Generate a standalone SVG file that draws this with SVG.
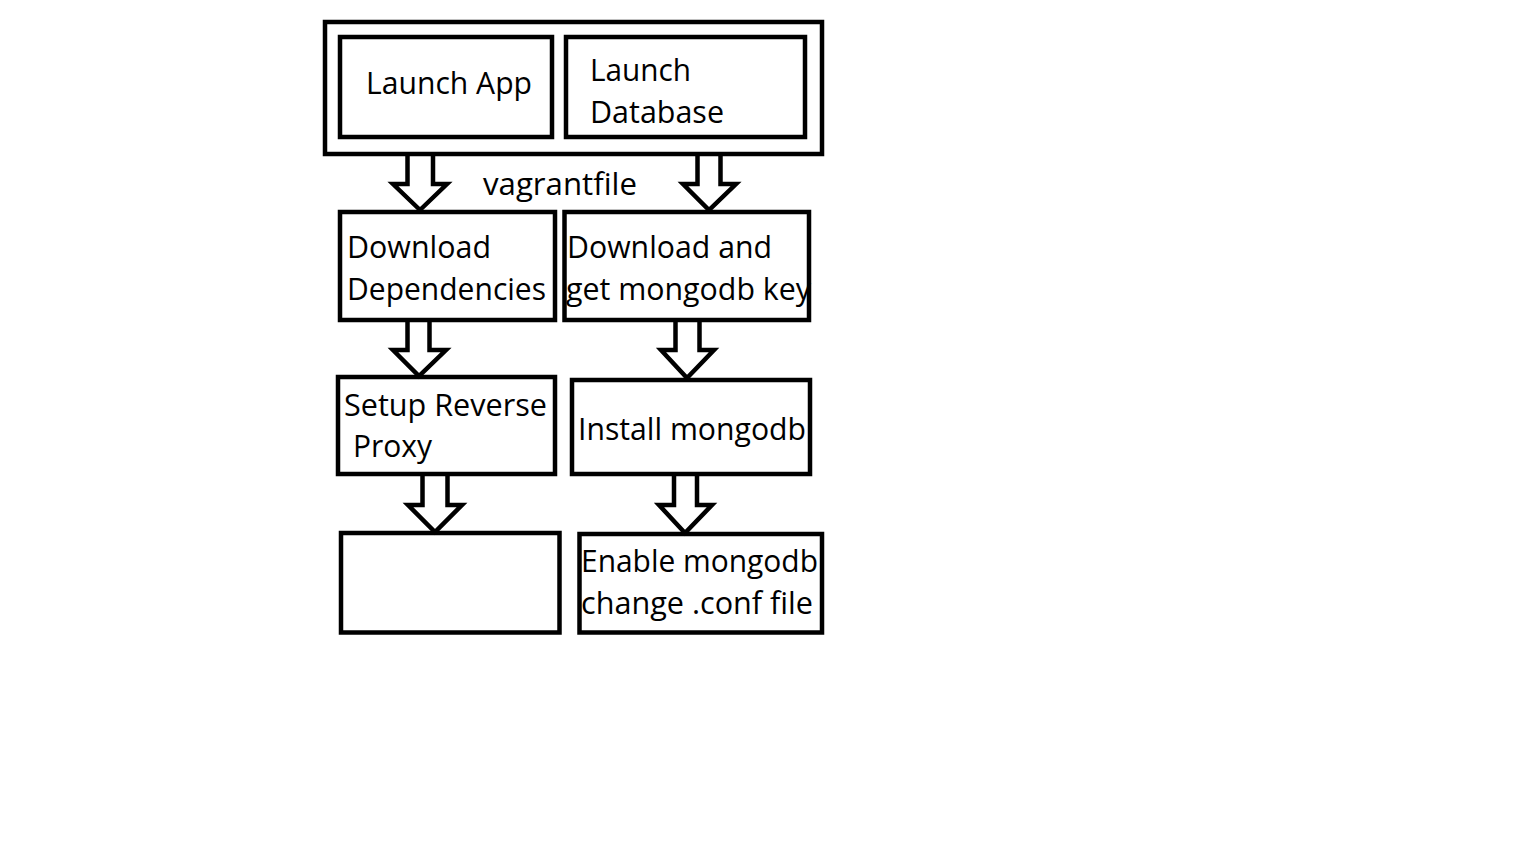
<svg xmlns="http://www.w3.org/2000/svg" width="1536" height="864" viewBox="0 0 1536 864">
<style>
.box{fill:none;stroke:#000;stroke-width:4.5}
.arr{fill:#fff;stroke:#000;stroke-width:4.5;stroke-linejoin:miter}
.t{font-family:"Open Sans","Noto Sans","Liberation Sans",sans-serif;font-size:31px;fill:#000}
</style>
<rect width="1536" height="864" fill="#fff"/>
<g id="connectors">
<path class="arr" d="M407.5,154 V184 H393 L420,210 L447,184 H433 V154"/>
<path class="arr" d="M697.5,154 V184 H683 L709,210 L736,184 H720.5 V154"/>
<path class="arr" d="M407.5,320 V350 H393 L419,376 L446,350 H429.5 V320"/>
<path class="arr" d="M675.5,320 V350 H661 L687,378 L714,350 H699.5 V320"/>
<path class="arr" d="M422.5,474 V505 H408 L435,532 L462,505 H447.5 V474"/>
<path class="arr" d="M674,474 V505 H659 L685,533 L712,505 H697 V474"/>
</g>
<g id="vagrantfile">
<rect class="box" x="325" y="22" width="497" height="132"/>
<text class="t" x="483" y="195" textLength="154" lengthAdjust="spacingAndGlyphs">vagrantfile</text>
</g>
<g id="launch-app">
<rect class="box" x="340" y="37" width="212" height="100"/>
<text class="t" x="366" y="94" textLength="166" lengthAdjust="spacingAndGlyphs">Launch App</text>
</g>
<g id="launch-database">
<rect class="box" x="566" y="37" width="239" height="100"/>
<text class="t" x="590" y="81" textLength="101" lengthAdjust="spacingAndGlyphs">Launch</text>
<text class="t" x="590" y="123" textLength="134" lengthAdjust="spacingAndGlyphs">Database</text>
</g>
<g id="download-dependencies">
<rect class="box" x="340" y="212" width="215" height="108"/>
<text class="t" x="347" y="258" textLength="144" lengthAdjust="spacingAndGlyphs">Download</text>
<text class="t" x="347" y="300" textLength="199" lengthAdjust="spacingAndGlyphs">Dependencies</text>
</g>
<g id="download-mongodb-key">
<rect class="box" x="564.5" y="212" width="244.5" height="108"/>
<text class="t" x="567" y="258" textLength="205" lengthAdjust="spacingAndGlyphs">Download and</text>
<text class="t" x="566" y="300" textLength="245" lengthAdjust="spacingAndGlyphs">get mongodb key</text>
</g>
<g id="setup-reverse-proxy">
<rect class="box" x="338" y="377" width="217" height="97"/>
<text class="t" x="344" y="416" textLength="203" lengthAdjust="spacingAndGlyphs">Setup Reverse</text>
<text class="t" x="353" y="457" textLength="79" lengthAdjust="spacingAndGlyphs">Proxy</text>
</g>
<g id="install-mongodb">
<rect class="box" x="572" y="380" width="238" height="94"/>
<text class="t" x="578" y="440" textLength="228" lengthAdjust="spacingAndGlyphs">Install mongodb</text>
</g>
<g id="empty-node">
<rect class="box" x="341" y="533" width="218.5" height="99.5"/>
</g>
<g id="enable-mongodb">
<rect class="box" x="579.5" y="534" width="242.5" height="98.5"/>
<text class="t" x="581" y="572" textLength="237" lengthAdjust="spacingAndGlyphs">Enable mongodb</text>
<text class="t" x="581" y="614" textLength="232" lengthAdjust="spacingAndGlyphs">change .conf file</text>
</g>
</svg>
